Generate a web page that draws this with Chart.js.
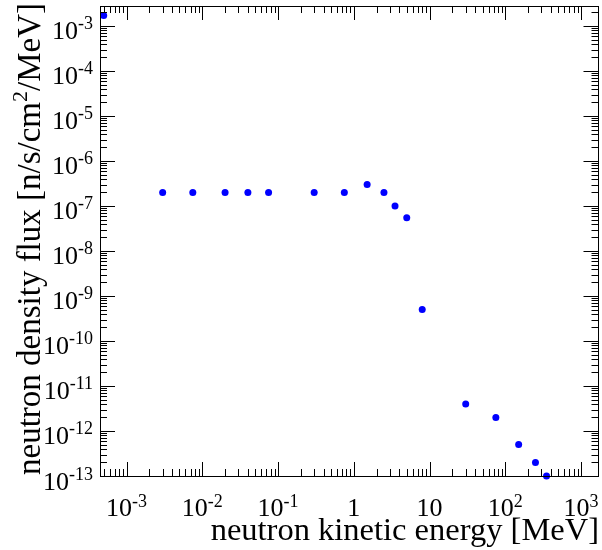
<!DOCTYPE html>
<html><head><meta charset="utf-8">
<script src="https://cdn.jsdelivr.net/npm/chart.js@4/dist/chart.umd.min.js"></script>
<style>html,body{margin:0;padding:0;background:#fff;}canvas{display:block;}</style>
</head><body>
<canvas id="c" width="602" height="550"></canvas>
<script>
// ---- data ----
const energyMeV = [5e-4, 3e-3, 7.5e-3, 0.02, 0.04, 0.075, 0.3, 0.75, 1.5, 2.5, 3.5, 5, 8, 30, 75, 150, 250, 350];
const fluxValues = [1.7e-3, 2e-7, 2e-7, 2e-7, 2e-7, 2e-7, 2e-7, 2e-7, 3e-7, 2e-7, 1e-7, 5.5e-8, 5e-10, 4e-12, 2e-12, 5e-13, 2e-13, 1e-13];
const xTickExponents = [-3, -2, -1, 0, 1, 2, 3];
const yTickExponents = [-13, -12, -11, -10, -9, -8, -7, -6, -5, -4, -3];
const xTitle = 'neutron kinetic energy [MeV]';
const yTitleParts = ['neutron density flux [n/s/cm', '2', '/MeV]'];

const FONT = '"Liberation Serif", "DejaVu Serif", serif';

function labelParts(e) {
  if (e === 0) return ['1', ''];
  if (e === 1) return ['10', ''];
  return ['10', String(e)];
}

const rootStyle = {
  id: 'rootStyle',
  afterDatasetsDraw(chart) {
    const ctx = chart.ctx;
    const a = chart.chartArea;
    const xs = chart.scales.x, ys = chart.scales.y;
    ctx.save();
    ctx.strokeStyle = '#000';
    ctx.lineWidth = 1;
    // frame
    ctx.strokeRect(Math.round(a.left) + 0.5, Math.round(a.top) + 0.5,
                   Math.round(a.right - a.left) - 1, Math.round(a.bottom - a.top));
    // ticks
    const drawLogTicks = (scale, isX) => {
      const lo = Math.floor(Math.log10(scale.min)), hi = Math.ceil(Math.log10(scale.max));
      for (let e = lo; e <= hi; e++) {
        for (let m = 1; m <= 9; m++) {
          const v = m * Math.pow(10, e);
          if (v < scale.min * 0.9999 || v > scale.max * 1.0001) continue;
          const p = Math.round(scale.getPixelForValue(v)) + 0.5;
          const len = m === 1 ? (isX ? 14 : 15) : 7;
          ctx.beginPath();
          if (isX) {
            ctx.moveTo(p, a.bottom); ctx.lineTo(p, a.bottom - len);
            ctx.moveTo(p, a.top); ctx.lineTo(p, a.top + len);
          } else {
            ctx.moveTo(a.left, p); ctx.lineTo(a.left + len, p);
            ctx.moveTo(a.right, p); ctx.lineTo(a.right - len, p);
          }
          ctx.stroke();
        }
      }
    };
    drawLogTicks(xs, true);
    drawLogTicks(ys, false);

    // tick labels
    ctx.fillStyle = '#000';
    ctx.textBaseline = 'alphabetic';
    const big = '26px ' + FONT, small = '18px ' + FONT;
    xTickExponents.forEach(e => {
      const [b, s] = labelParts(e);
      ctx.font = big; const wb = ctx.measureText(b).width;
      ctx.font = small; const ws = s ? ctx.measureText(s).width : 0;
      const cx = xs.getPixelForValue(Math.pow(10, e));
      const x0 = cx - (wb + ws) / 2;
      ctx.textAlign = 'left';
      ctx.font = big; ctx.fillText(b, x0, 516);
      if (s) { ctx.font = small; ctx.fillText(s, x0 + wb, 507); }
    });
    yTickExponents.forEach(e => {
      const [b, s] = labelParts(e);
      ctx.font = big; const wb = ctx.measureText(b).width;
      ctx.font = small; const ws = s ? ctx.measureText(s).width : 0;
      const py = ys.getPixelForValue(Math.pow(10, e));
      const xr = 93;
      ctx.textAlign = 'left';
      ctx.font = big; ctx.fillText(b, xr - ws - wb, py + 13.5);
      if (s) { ctx.font = small; ctx.fillText(s, xr - ws, py + 3.5); }
    });

    // x axis title
    ctx.font = '32.5px ' + FONT;
    ctx.textAlign = 'right';
    ctx.fillText(xTitle, 599, 540);

    // y axis title (rotated, with superscript)
    const mainF = '33px ' + FONT, supF = '22px ' + FONT;
    ctx.font = mainF; const w0 = ctx.measureText(yTitleParts[0]).width;
    ctx.font = supF; const w1 = ctx.measureText(yTitleParts[1]).width;
    ctx.font = mainF; const w2 = ctx.measureText(yTitleParts[2]).width;
    const total = w0 + w1 + w2;
    ctx.save();
    ctx.translate(40, 3);
    ctx.rotate(-Math.PI / 2);
    ctx.textAlign = 'left';
    let x = -total;
    ctx.font = mainF; ctx.fillText(yTitleParts[0], x, 0); x += w0;
    ctx.font = supF; ctx.fillText(yTitleParts[1], x, -13); x += w1;
    ctx.font = mainF; ctx.fillText(yTitleParts[2], x, 0);
    ctx.restore();
    ctx.restore();
  }
};

new Chart(document.getElementById('c'), {
  type: 'scatter',
  data: {
    datasets: [{
      data: energyMeV.map((e, i) => ({ x: e, y: fluxValues[i] })),
      backgroundColor: '#0000ff',
      borderWidth: 0,
      pointRadius: 3.5,
      pointHoverRadius: 3.5,
      clip: false
    }]
  },
  options: {
    responsive: false,
    animation: false,
    events: [],
    layout: { padding: { left: 100, right: 1, top: 6, bottom: 74 } },
    plugins: { legend: { display: false }, tooltip: { enabled: false } },
    scales: {
      x: { type: 'logarithmic', display: false, bounds: 'data',
           min: Math.pow(10, -3.35), max: Math.pow(10, 3.23) },
      y: { type: 'logarithmic', display: false, bounds: 'data',
           min: 1e-13, max: Math.pow(10, -2.556) }
    }
  },
  plugins: [rootStyle]
});
</script>
</body></html>
